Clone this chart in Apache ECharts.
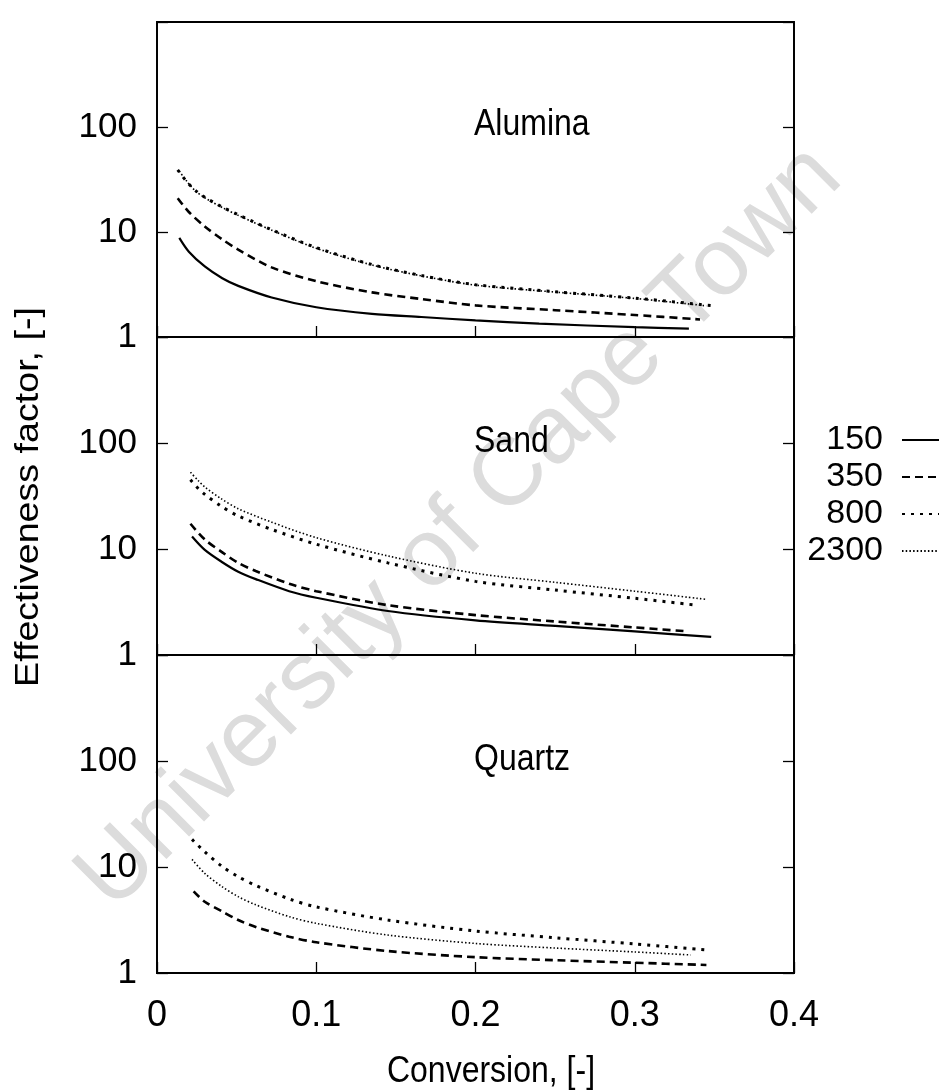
<!DOCTYPE html>
<html>
<head>
<meta charset="utf-8">
<title>Effectiveness factor vs conversion</title>
<script src="https://cdn.jsdelivr.net/npm/echarts@6/dist/echarts.min.js"></script>
<style>
  html, body { margin: 0; padding: 0; background: #fff; }
  #chart { width: 940px; height: 1091px; }
</style>
</head>
<body>
<div id="chart"></div>
<script>
// Particle sizes shown in the legend
const sizes = ['150', '350', '800', '2300'];
const panelNames = ['Alumina', 'Sand', 'Quartz'];
const xTicks = [0, 0.1, 0.2, 0.3, 0.4];
const yTickLabels = ['1', '10', '100'];
const xTitle = 'Conversion, [-]';
const yTitle = 'Effectiveness factor, [-]';

// Effectiveness factor vs conversion, [conversion, factor]
const alumina150 = [[0.014, 8.8], [0.02, 6.5], [0.03, 4.7], [0.041, 3.63], [0.051, 3.07], [0.072, 2.38], [0.1, 1.92], [0.135, 1.66], [0.166, 1.55], [0.2, 1.44], [0.24, 1.34], [0.3, 1.24], [0.334, 1.2]];
const alumina350 = [[0.013, 21], [0.02, 15.5], [0.03, 11.3], [0.041, 8.5], [0.051, 6.8], [0.072, 4.6], [0.1, 3.4], [0.135, 2.66], [0.166, 2.3], [0.2, 2.0], [0.25, 1.8], [0.3, 1.62], [0.341, 1.47]];
const alumina800 = [[0.013, 39], [0.018, 31], [0.024, 25], [0.03, 21.4], [0.041, 17.3], [0.051, 14.6], [0.072, 10.5], [0.1, 7.1], [0.135, 4.9], [0.166, 3.85], [0.2, 3.15], [0.25, 2.7], [0.3, 2.35], [0.348, 1.99]];
const alumina2300 = [[0.014, 38], [0.019, 30], [0.024, 24.7], [0.03, 21.2], [0.041, 17.1], [0.051, 14.4], [0.072, 10.4], [0.1, 7.0], [0.135, 4.85], [0.166, 3.82], [0.2, 3.12], [0.25, 2.68], [0.3, 2.33], [0.345, 1.98]];

const sand150 = [[0.022, 13.1], [0.03, 9.8], [0.041, 7.5], [0.051, 6.1], [0.062, 5.2], [0.083, 4.0], [0.1, 3.47], [0.145, 2.6], [0.2, 2.12], [0.25, 1.88], [0.3, 1.67], [0.348, 1.48]];
const sand350 = [[0.021, 17.3], [0.03, 12.3], [0.041, 9.3], [0.051, 7.4], [0.062, 6.2], [0.083, 4.7], [0.1, 4.0], [0.145, 2.95], [0.2, 2.38], [0.25, 2.07], [0.3, 1.82], [0.331, 1.68]];
const sand800 = [[0.021, 45], [0.026, 37], [0.03, 32.8], [0.04, 25.5], [0.051, 20.5], [0.072, 15.3], [0.1, 11.1], [0.145, 7.4], [0.2, 4.95], [0.25, 4.1], [0.3, 3.43], [0.338, 2.96]];
const sand2300 = [[0.021, 53], [0.026, 44], [0.03, 38.5], [0.04, 30], [0.051, 24], [0.072, 17.9], [0.1, 12.8], [0.145, 8.6], [0.2, 5.9], [0.25, 4.85], [0.3, 4.0], [0.345, 3.35]];

const quartz350 = [[0.023, 5.9], [0.03, 4.7], [0.041, 3.8], [0.051, 3.16], [0.062, 2.72], [0.083, 2.2], [0.1, 1.95], [0.145, 1.61], [0.2, 1.41], [0.25, 1.32], [0.3, 1.25], [0.345, 1.19]];
const quartz800 = [[0.022, 18.2], [0.03, 13.9], [0.041, 10.1], [0.051, 8.1], [0.062, 6.7], [0.083, 5.0], [0.1, 4.2], [0.145, 3.16], [0.2, 2.49], [0.25, 2.15], [0.3, 1.88], [0.346, 1.65]];
const quartz2300 = [[0.022, 11.8], [0.03, 8.7], [0.041, 6.5], [0.051, 5.25], [0.062, 4.4], [0.083, 3.4], [0.1, 2.94], [0.145, 2.28], [0.2, 1.9], [0.25, 1.72], [0.3, 1.58], [0.335, 1.48]];

const panelData = [
  { '150': alumina150, '350': alumina350, '800': alumina800, '2300': alumina2300 },
  { '150': sand150, '350': sand350, '800': sand800, '2300': sand2300 },
  { '350': quartz350, '800': quartz800, '2300': quartz2300 }
];

const FONT = "'Liberation Sans', Arial, Helvetica, sans-serif";

const lineStyles = {
  '150': { type: 'solid', width: 2.2 },
  '350': { type: [8, 5], width: 2.6 },
  '800': { type: [3, 6], width: 3 },
  '2300': { type: [1.5, 2.2], width: 1.6 }
};

const panelTops = [22, 337, 655];
const panelHeights = [315, 318, 318];

const grids = [], xAxes = [], yAxes = [], series = [];
panelTops.forEach((top, i) => {
  grids.push({
    left: 157, right: 146, top: top, height: panelHeights[i],
    show: true, borderColor: '#000', borderWidth: 1.8, backgroundColor: 'transparent'
  });
  const last = i === panelTops.length - 1;
  xAxes.push({
    type: 'value', gridIndex: i, min: xTicks[0], max: xTicks[xTicks.length - 1], interval: 0.1,
    axisLine: { show: true, lineStyle: { color: '#000', width: 2 } },
    axisTick: { show: true, inside: true, length: 11, lineStyle: { color: '#000', width: 1.3 } },
    axisLabel: {
      show: last, margin: 25, color: '#000', fontFamily: FONT, fontSize: 36,
      formatter: v => String(+v.toFixed(1))
    },
    splitLine: { show: false }
  });
  const yCommon = {
    type: 'log', logBase: 10, gridIndex: i, min: 1, max: 1000,
    axisLine: { show: true, lineStyle: { color: '#000', width: 1.8 } },
    axisTick: { show: true, inside: true, length: 11, lineStyle: { color: '#000', width: 1.3 } },
    splitLine: { show: false }
  };
  yAxes.push(Object.assign({}, yCommon, {
    position: 'left',
    axisLabel: {
      show: true, margin: 20, color: '#000', fontFamily: FONT, fontSize: 35,
      formatter: v => (yTickLabels.indexOf(String(v)) >= 0 ? String(v) : '')
    }
  }));
  yAxes.push(Object.assign({}, yCommon, {
    position: 'right',
    axisLabel: { show: false }
  }));
  sizes.forEach(s => {
    const d = panelData[i][s];
    if (!d) return;
    series.push({
      name: s, type: 'line', xAxisIndex: i, yAxisIndex: i * 2,
      data: d, smooth: 0.3, symbol: 'none', silent: true,
      lineStyle: Object.assign({ color: '#000', cap: 'butt' }, lineStyles[s]),
      itemStyle: { color: '#000' },
      z: 3
    });
  });
});

// Panel names, axis titles and the diagonal watermark
const panelLabelY = [125, 442, 760];
const graphics = panelNames.map((n, i) => ({
  type: 'text', x: 474, y: panelLabelY[i], scaleY: 1.15, z: 5,
  style: { text: n, font: '32px ' + FONT, fill: '#000', align: 'left', verticalAlign: 'middle' }
}));
graphics.push({
  type: 'text', x: 491, y: 1072, scaleY: 1.15, z: 5,
  style: { text: xTitle, font: '32px ' + FONT, fill: '#000', align: 'center', verticalAlign: 'middle' }
});
graphics.push({
  type: 'text', x: 29, y: 497, rotation: Math.PI / 2, scaleX: 1.14, z: 5,
  style: { text: yTitle, font: '33px ' + FONT, fill: '#000', align: 'center', verticalAlign: 'middle' }
});
graphics.push({
  type: 'text', x: 460, y: 528, rotation: Math.PI / 4, z: -1, silent: true,
  style: {
    text: 'University of Cape Town', font: '96px ' + FONT,
    fill: '#dcdcdc', align: 'center', verticalAlign: 'middle'
  }
});

const chart = echarts.init(document.getElementById('chart'), null, { renderer: 'canvas' });
chart.setOption({
  backgroundColor: '#fff',
  animation: false,
  grid: grids,
  xAxis: xAxes,
  yAxis: yAxes,
  legend: {
    data: sizes, orient: 'vertical', right: 0, top: 423, align: 'right',
    itemWidth: 37, itemHeight: 14, itemGap: 3, padding: 0,
    itemStyle: { opacity: 0 },
    textStyle: { color: '#000', fontFamily: FONT, fontSize: 34, padding: [0, 14, 0, 0] },
    selectedMode: false
  },
  graphic: graphics,
  series: series
});
</script>
</body>
</html>
